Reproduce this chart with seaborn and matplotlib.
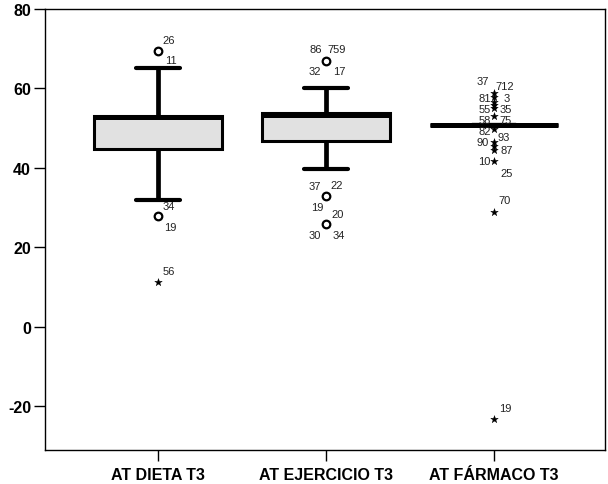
import numpy as np
import pandas as pd
import matplotlib
matplotlib.use("Agg")
import matplotlib.pyplot as plt
import seaborn as sns

# ---------------- data ----------------
categories = ["AT DIETA T3", "AT EJERCICIO T3", "AT FÁRMACO T3"]
# five-number summaries: lower whisker, Q1, median, Q3, upper whisker
dieta_summary = [31.9, 44.7, 52.8, 53.1, 65.2]
ejercicio_summary = [39.7, 46.7, 53.4, 53.7, 60.2]
farmaco_summary = [50.9, 50.9, 50.9, 50.9, 50.9]

# outliers (circles) and extremes (stars)
out_cat = ["AT DIETA T3", "AT DIETA T3", "AT EJERCICIO T3", "AT EJERCICIO T3", "AT EJERCICIO T3"]
out_val = [69.5, 27.9, 67.0, 32.8, 25.9]

ext_cat = ["AT DIETA T3"] + ["AT FÁRMACO T3"] * 13
ext_val = [11.2, 58.9, 57.8, 56.6, 55.8, 55.1, 53.0, 49.7, 46.6, 45.5, 44.4, 41.7, 28.8, -23.3]

# case labels: (category, value of the point, label text)
label_cat = (["AT DIETA T3"] * 5 + ["AT EJERCICIO T3"] * 10 + ["AT FÁRMACO T3"] * 16)
label_val = [69.5, 69.5, 27.9, 27.9, 11.2,
             67.0, 67.0, 67.0, 67.0, 32.8, 32.8, 32.8, 25.9, 25.9, 25.9,
             58.9, 58.9, 56.6, 56.6, 55.1, 55.1, 53.0, 53.0, 49.7, 46.6, 46.6, 44.4, 41.7, 41.7, 28.8, -23.3]
label_txt = ["26", "11", "34", "19", "56",
             "86", "759", "32", "17", "37", "22", "19", "20", "30", "34",
             "37", "712", "81", "3", "55", "35", "58", "75", "82", "90", "93", "87", "10", "25", "70", "19"]

yticks = [-20, 0, 20, 40, 60, 80]

# ---------------- layout offsets for labels (pixels, y up) ----------------
label_off = [(11, 11), (13, -9), (11, 10), (13, -11), (11, 11),
             (-10, 12), (11, 12), (-11, -10), (13, -10), (-11, 10), (11, 11), (-9, -11),
             (12, 10), (-11, -11), (13, -11),
             (-11, 12), (11, 7), (-9, 4), (13, 4), (-9, -1), (12, -1), (-9, -4), (12, -4),
             (-9, -2), (-11, 0), (10, 5), (13, 0), (-10, 0), (13, -12), (11, 12), (11, 11)]

# ---------------- plotting ----------------
sns.set_theme(style="white")
plt.rcParams["font.family"] = ["Liberation Sans", "DejaVu Sans"]
plt.rcParams["axes.unicode_minus"] = False

fig = plt.figure(figsize=(6.08, 4.85), dpi=100)
ax = fig.add_axes([45 / 608, 34 / 485, 560 / 608, 441 / 485])

df = pd.DataFrame({
    "cat": np.repeat(categories, 5),
    "val": dieta_summary + ejercicio_summary + farmaco_summary,
})

sns.boxplot(data=df, x="cat", y="val", order=categories, ax=ax,
            whis=(0, 100), width=0.76, color="#e1e1e1", saturation=1,
            linecolor="black", linewidth=2.2, fliersize=0,
            medianprops=dict(linewidth=3.6, color="black"),
            whiskerprops=dict(linewidth=3.4, color="black"),
            capprops=dict(linewidth=3.0, color="black"),
            capwidths=0.26)

sns.scatterplot(x=out_cat, y=out_val, ax=ax, marker="o", s=30,
                facecolor="white", edgecolor="black", linewidth=1.6, zorder=5)
sns.scatterplot(x=ext_cat, y=ext_val, ax=ax, marker="*", s=32,
                color="black", edgecolor="black", linewidth=0.3, zorder=5)

pos = {c: i for i, c in enumerate(categories)}
for c, v, t, (dx, dy) in zip(label_cat, label_val, label_txt, label_off):
    ax.annotate(t, (pos[c], v), xytext=(dx, dy), textcoords="offset pixels",
                ha="center", va="center", fontsize=8, color="#222222", zorder=6)

ax.set_xlim(-0.67, 2.66)
ax.set_ylim(-31.1, 80)
ax.set_yticks(yticks)
ax.set_xlabel("")
ax.set_ylabel("")
for s in ax.spines.values():
    s.set_visible(True)
    s.set_color("black")
    s.set_linewidth(1.0)
ax.tick_params(axis="both", which="both", direction="out", length=8, width=1.0,
               color="black", left=True, bottom=True, labelsize=11.5, pad=2)
for lab in ax.get_xticklabels() + ax.get_yticklabels():
    lab.set_fontweight("bold")
    lab.set_color("black")
ax.tick_params(axis="x", pad=4)
ax.grid(False)

fig.savefig("out.png", dpi=100)
